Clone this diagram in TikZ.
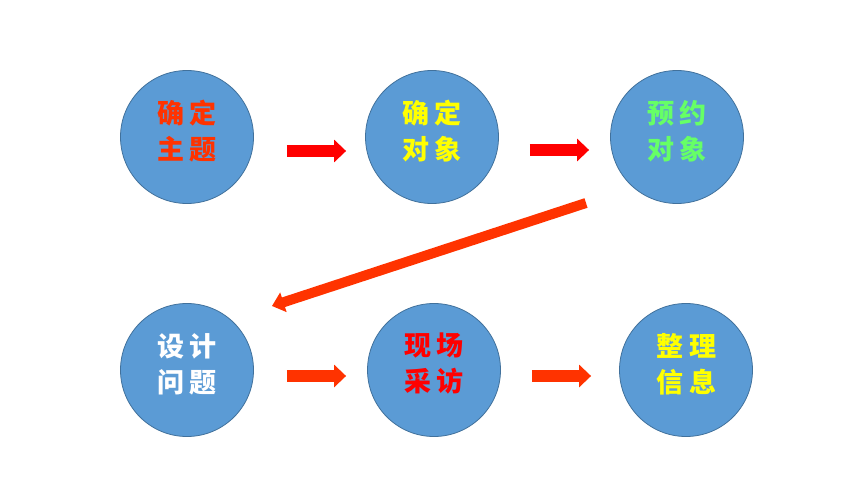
\documentclass[tikz,border=0pt]{standalone}
\usepackage{fontspec}
\newfontfamily\cjk{Noto Sans CJK SC}
\usetikzlibrary{arrows.meta,calc}
\definecolor{circfill}{HTML}{5B9BD5}
\definecolor{circedge}{HTML}{41719C}
\definecolor{orred}{HTML}{FF3300}
\definecolor{pured}{HTML}{FF0000}
\definecolor{yel}{HTML}{FFFF00}
\definecolor{grn}{HTML}{66FF66}
\begin{document}
\begin{tikzpicture}[x=1pt,y=-1pt,
  bubble/.style={circle, fill=circfill, draw=circedge, line width=0.8pt, minimum size=133pt, inner sep=0pt},
  txt/.style={font=\cjk\bfseries\fontsize{27}{36}\selectfont, align=center, inner sep=0pt},
  flowred/.style={line width=12pt, draw=pured, -{Triangle[length=12pt,width=22pt]}},
  floworange/.style={line width=12pt, draw=orred, -{Triangle[length=12pt,width=22pt]}},
  diag/.style={line width=10pt, draw=orred, -{Triangle[length=12pt,width=20pt]}}]
\useasboundingbox (0,0) rectangle (860,484);
\fill[white] (0,0) rectangle (860,484);
\node[bubble] (c1) at (187,137) {};
\node[bubble] (c2) at (432,137) {};
\node[bubble] (c3) at (677,137) {};
\node[bubble] (c4) at (187,370) {};
\node[bubble] (c5) at (434,370) {};
\node[bubble] (c6) at (686,370) {};
\node[txt, text=orred] (t1) at ([yshift=6pt]c1.center) {确\hspace{6pt}定\\主\hspace{6pt}题};
\node[txt, text=yel] (t2) at ([yshift=6pt]c2.center) {确\hspace{6pt}定\\对\hspace{6pt}象};
\node[txt, text=grn] (t3) at ([yshift=6pt]c3.center) {预\hspace{6pt}约\\对\hspace{6pt}象};
\node[txt, text=white] (t4) at ([yshift=6pt]c4.center) {设\hspace{6pt}计\\问\hspace{6pt}题};
\node[txt, text=pured] (t5) at ([yshift=6pt]c5.center) {现\hspace{6pt}场\\采\hspace{6pt}访};
\node[txt, text=yel] (t6) at ([yshift=6pt]c6.center) {整\hspace{6pt}理\\信\hspace{6pt}息};
\draw[flowred, shorten <=33pt, shorten >=19pt] ([yshift=-14pt]c1.east) -- ([yshift=-14pt]c2.west);
\draw[flowred, shorten <=31pt, shorten >=21pt] ([yshift=-13pt]c2.east) -- ([yshift=-13pt]c3.west);
\draw[floworange, shorten <=33pt, shorten >=21pt] ([yshift=-6pt]c4.east) -- ([yshift=-6pt]c5.west);
\draw[floworange, shorten <=31pt, shorten >=28pt] ([yshift=-6pt]c5.east) -- ([yshift=-6pt]c6.west);
\coordinate (d1) at ($(c3.center)+(-91,66)$);
\coordinate (d2) at ($(c4.center)+(85,-64)$);
\draw[diag] (d1) -- (d2);
\end{tikzpicture}
\end{document}
